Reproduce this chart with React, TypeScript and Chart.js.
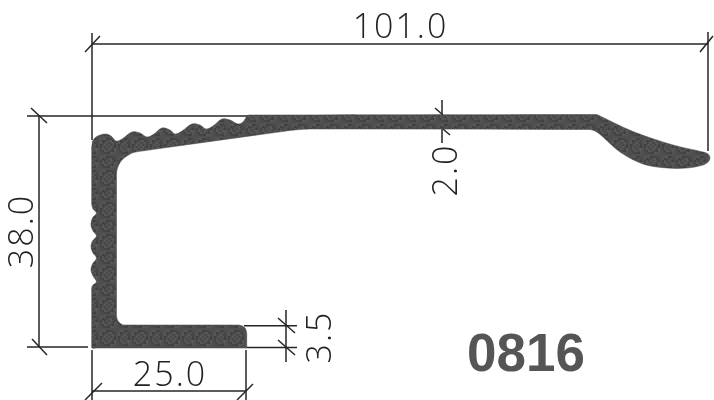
import React, { useEffect, useRef } from "react";
import { Chart, registerables } from "chart.js";

Chart.register(...registerables);

type P = [number, number];

// Profile outline (x right, y down, picture units)
const profileOutline: P[] = [
  [92, 142], [96, 137], [105, 134], [111, 136], [116, 141], [122, 139], [132, 132], [140, 133], [147, 137],
  [154, 134], [162, 128], [170, 130], [175, 134], [182, 131], [192, 124], [200, 125], [206, 129],
  [213, 126], [222, 119], [230, 120], [238, 124], [243, 122], [247, 116], [249, 115],
  [252, 115], [590, 114.5], [596, 114.5], [599, 115.5], [633, 131.5], [673, 145], [703, 152], [708, 154],
  [710, 158], [708, 162], [703, 165], [687, 168], [667, 168], [643, 164], [620, 152], [603, 137],
  [596, 131.5], [590, 129.5], [586, 129.5], [312, 129], [300, 129.5], [290, 130.5], [142, 151], [137, 151.8],
  [131, 153.5], [122, 160], [117.5, 168], [116.5, 174], [116.5, 178], [116.5, 312], [116.5, 316], [118, 321],
  [122, 324.5], [126, 325], [236, 325], [241, 325.5], [245, 328], [246.7, 333], [246.7, 337], [246.7, 345], [246.7, 348],
  [244, 348], [96, 348], [92, 348], [91.7, 345], [91.7, 342], [91.7, 292], [91.7, 288], [93, 285], [96.5, 282],
  [93, 276], [91, 270], [92.5, 264], [96.5, 258], [93, 253], [91, 247], [92.5, 241], [96.5, 236], [93, 231],
  [91, 225], [92.5, 218], [96.5, 213], [93, 209], [91.7, 204], [91.7, 200], [91.7, 150], [91.7, 146],
];

// Dimension lines, extension lines and slashes
const width101: P[][] = [
  [[92, 44], [708, 44]],
  [[92, 33], [92, 140]],
  [[708, 32], [708, 151]],
  [[85, 52], [100, 36]],
  [[700, 52], [713, 36]],
];
const height38: P[][] = [
  [[39, 116], [39, 347]],
  [[27, 116], [250, 116]],
  [[27, 347], [88, 347]],
  [[31, 108], [47, 123]],
  [[32, 339], [47, 355]],
];
const width25: P[][] = [
  [[92, 391], [246, 391]],
  [[92, 350], [92, 400]],
  [[246, 350], [246, 400]],
  [[85, 400], [102, 383]],
  [[237, 400], [253, 384]],
];
const lip35: P[][] = [
  [[286, 310], [286, 362]],
  [[244, 325.7], [297, 325.7]],
  [[247, 347.5], [297, 347.5]],
  [[278, 318], [295, 333]],
  [[278, 340], [295, 355]],
];
const wall20: P[][] = [
  [[442, 100], [442, 115]],
  [[442, 129], [442, 143]],
  [[435, 108], [443, 115]],
  [[443, 129], [450, 135]],
];

const labelTexts = ["101.0", "38.0", "25.0", "3.5", "2.0"];
const labelX = [400.5, 23, 170, 321, 447];
const labelY = [28, 231, 376, 337, 170];
const labelTurn = [0, -90, 0, -90, -90];
const partNumber = "0816";

const dimensions = [width101, height38, width25, lip35, wall20];

const drawingText = {
  id: "drawingText",
  afterDatasetsDraw(chart: any) {
    const { ctx, scales } = chart;
    ctx.save();
    ctx.textAlign = "center";
    ctx.textBaseline = "middle";
    labelTexts.forEach((t, i) => {
      ctx.save();
      ctx.translate(scales.x.getPixelForValue(labelX[i]), scales.y.getPixelForValue(labelY[i]));
      ctx.rotate((labelTurn[i] * Math.PI) / 180);
      ctx.font = '300 34px "Open Sans"';
      ctx.letterSpacing = "2px";
      ctx.fillStyle = "#222222";
      ctx.fillText(t, 0, 0);
      ctx.restore();
    });
    ctx.letterSpacing = "0px";
    ctx.font = 'bold 53px "Liberation Sans"';
    ctx.fillStyle = "#555555";
    ctx.fillText(partNumber, scales.x.getPixelForValue(526), scales.y.getPixelForValue(356));
    ctx.restore();
  },
};

// Mottled toner texture for the filled section
function speckle(): CanvasPattern | string {
  const tile = document.createElement("canvas");
  tile.width = 32;
  tile.height = 32;
  const c = tile.getContext("2d");
  if (!c) return "#4c4c4c";
  for (let y = 0; y < 32; y += 2) {
    for (let x = 0; x < 32; x += 2) {
      const v = 76 + (((x * 7 + y * 13 + ((x * y) >> 2)) % 9) - 4) * 3;
      c.fillStyle = `rgb(${v},${v},${v})`;
      c.fillRect(x, y, 2, 2);
    }
  }
  return c.createPattern(tile, "repeat") ?? "#4c4c4c";
}

export default function App() {
  const ref = useRef<HTMLCanvasElement>(null);
  useEffect(() => {
    if (!ref.current) return;
    const toPts = (a: P[]) => a.map(([x, y]) => ({ x, y }));
    const datasets: any[] = [
      {
        label: "profile",
        data: toPts(profileOutline),
        showLine: true,
        tension: 0.35,
        fill: "shape",
        backgroundColor: speckle(),
        borderColor: "#444444",
        borderWidth: 0.5,
        pointRadius: 0,
      },
    ];
    dimensions.forEach((group) =>
      group.forEach((seg) =>
        datasets.push({
          data: toPts(seg),
          showLine: true,
          tension: 0,
          fill: false,
          borderColor: "#262626",
          borderWidth: 1.5,
          pointRadius: 0,
        })
      )
    );
    const chart = new Chart(ref.current, {
      type: "scatter",
      data: { datasets },
      options: {
        animation: false,
        responsive: false,
        devicePixelRatio: 1,
        layout: { padding: 0 },
        plugins: { legend: { display: false }, tooltip: { enabled: false } },
        scales: {
          x: { type: "linear", min: 0, max: 714, display: false },
          y: { type: "linear", min: 0, max: 400, reverse: true, display: false },
        },
      } as any,
      plugins: [drawingText],
    });
    return () => chart.destroy();
  }, []);
  return (
    <div style={{ position: "fixed", left: 0, top: 0, width: 714, height: 400, background: "#fff" }}>
      <canvas ref={ref} width={714} height={400} style={{ display: "block" }} />
    </div>
  );
}
